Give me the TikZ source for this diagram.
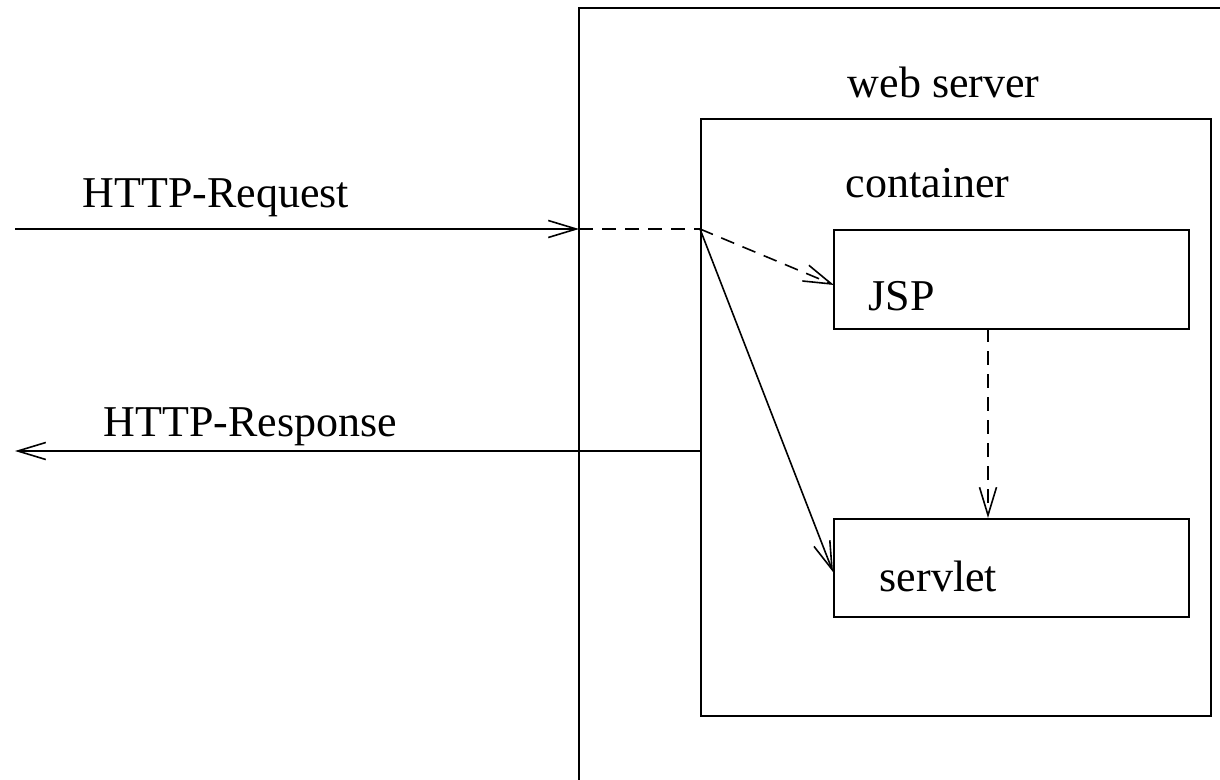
\documentclass[tikz,border=0pt]{standalone}
\usepackage{fontspec}
\setmainfont{Liberation Serif}
\usetikzlibrary{arrows.meta}
\begin{document}
\begin{tikzpicture}[x=1pt,y=-1pt,
  line width=1.6pt,
  lbl/.style={anchor=base west,inner sep=0pt,font=\fontsize{44}{52}\selectfont},
  box/.style={draw,rectangle,inner sep=0pt,anchor=north west},
  tip/.style={-{Straight Barb[length=28pt,width=17pt,line width=1.6pt]}},
  dsh/.style={dash pattern=on 14pt off 9pt}]
\useasboundingbox (0,0) rectangle (1220,779);
% outer web server box (cut by picture edge)
\coordinate (wsTR) at (1222,8);
\coordinate (wsTL) at (579,8);
\coordinate (wsBL) at (579,781);
\draw (wsTR) -- (wsTL) -- (wsBL);
% boxes
\node[box,minimum width=510pt,minimum height=597pt] (cont) at (700,118) {};
\node[box,minimum width=355pt,minimum height=99pt] (jsp) at (833,229) {};
\node[box,minimum width=355pt,minimum height=98pt] (serv) at (833,518) {};
% labels
\node[lbl] (lws) at (847,97) {web server};
\node[lbl] (lcont) at (845,197) {container};
\node[lbl] (ljsp) at (868,310) {JSP};
\node[lbl] (lserv) at (879,591) {servlet};
\node[lbl] (lreq) at (82,207) {HTTP-Request};
\node[lbl] (lres) at (103,436) {HTTP-Response};
% connector points
\coordinate (reqS) at (15,229);
\coordinate (reqE) at (579,229);
\coordinate (disp) at (700,229);
\coordinate (resS) at (700,451);
\coordinate (resE) at (15,451);
\coordinate (jspIn) at (834,285);
\coordinate (servIn) at (833,572);
\coordinate (jspOut) at (988,328);
\coordinate (servTop) at (988,518);
% connectors
\draw[tip] (reqS) -- (reqE);
\draw[dsh] (reqE) -- (disp);
\draw[tip,dsh] (disp) -- (jspIn);
\draw[tip] (disp) -- (servIn);
\draw[tip,dsh] (jspOut) -- (servTop);
\draw[tip] (resS) -- (resE);
\end{tikzpicture}
\end{document}
